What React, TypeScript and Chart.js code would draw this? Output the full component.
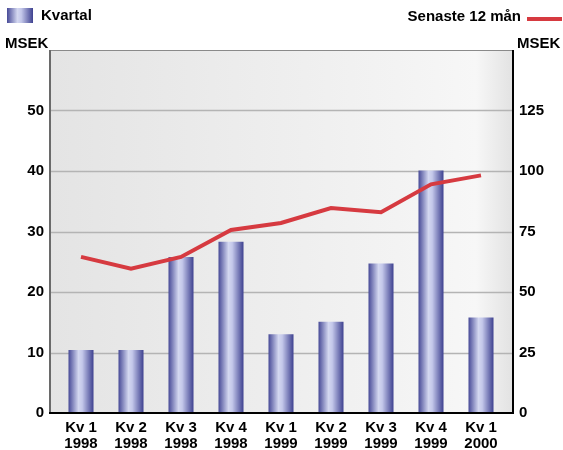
import React, { useEffect, useRef } from "react";
import { Chart, registerables } from "chart.js";

Chart.register(...registerables);

const categories: string[][] = [
  ["Kv 1", "1998"], ["Kv 2", "1998"], ["Kv 3", "1998"], ["Kv 4", "1998"],
  ["Kv 1", "1999"], ["Kv 2", "1999"], ["Kv 3", "1999"], ["Kv 4", "1999"],
  ["Kv 1", "2000"],
];
const kvartal: number[] = [10.4, 10.4, 25.8, 28.3, 13.0, 15.1, 24.7, 40.1, 15.8];
const senaste12: number[] = [64.5, 59.6, 64.5, 75.6, 78.5, 84.7, 83.0, 94.5, 98.2];
const leftMax = 60;
const rightMax = 150;
const leftStep = 10;
const legendBars = "Kvartal";
const legendLine = "Senaste 12 mån";
const axisUnit = "MSEK";

const FONT = "'Liberation Sans', Arial, sans-serif";
const BAR_PCT = 0.5;
const FRAME_L = 50;
const FRAME_R = 513;

function barGradient(ctx: CanvasRenderingContext2D, x0: number, w: number) {
  const g = ctx.createLinearGradient(x0, 0, x0 + w, 0);
  g.addColorStop(0, "#474a97");
  g.addColorStop(0.4, "#d3d7f0");
  g.addColorStop(0.55, "#c4c8ea");
  g.addColorStop(1, "#3e4190");
  return g;
}

const decorPlugin = {
  id: "decor",
  beforeDatasetsDraw(chart: any) {
    const { ctx, chartArea: a } = chart;
    const ys = chart.scales.y;
    ctx.save();
    const g = ctx.createLinearGradient(FRAME_L, 0, FRAME_R, 0);
    g.addColorStop(0, "#e4e4e4");
    g.addColorStop(0.75, "#f3f3f3");
    g.addColorStop(0.92, "#f7f7f7");
    g.addColorStop(1, "#e2e2e2");
    ctx.fillStyle = g;
    ctx.fillRect(FRAME_L, a.top, FRAME_R - FRAME_L, a.bottom - a.top);
    ctx.strokeStyle = "#b4b4b4";
    ctx.lineWidth = 1.5;
    for (let v = leftStep; v < leftMax; v += leftStep) {
      const y = Math.round(ys.getPixelForValue(v)) + 0.5;
      ctx.beginPath();
      ctx.moveTo(FRAME_L, y);
      ctx.lineTo(FRAME_R, y);
      ctx.stroke();
    }
    ctx.restore();
  },
  afterDraw(chart: any) {
    const { ctx, chartArea: a } = chart;
    ctx.save();
    ctx.strokeStyle = "#8a8a8a";
    ctx.lineWidth = 1;
    ctx.beginPath();
    ctx.moveTo(FRAME_L, a.top + 0.5);
    ctx.lineTo(FRAME_R, a.top + 0.5);
    ctx.stroke();
    ctx.lineWidth = 2;
    ctx.strokeStyle = "#6a6a6a";
    ctx.beginPath();
    ctx.moveTo(FRAME_L, a.top);
    ctx.lineTo(FRAME_L, a.bottom + 1);
    ctx.stroke();
    ctx.strokeStyle = "#000";
    ctx.beginPath();
    ctx.moveTo(FRAME_R, a.top);
    ctx.lineTo(FRAME_R, a.bottom + 1);
    ctx.stroke();
    ctx.beginPath();
    ctx.moveTo(FRAME_L - 1, a.bottom);
    ctx.lineTo(FRAME_R + 1, a.bottom);
    ctx.stroke();
    // legend: bars
    ctx.fillStyle = barGradient(ctx, 7, 26);
    ctx.fillRect(7, 8, 26, 15);
    ctx.fillStyle = "#000";
    ctx.font = `bold 15px ${FONT}`;
    ctx.textBaseline = "middle";
    ctx.textAlign = "left";
    ctx.fillText(legendBars, 41, 16);
    // legend: line
    ctx.textAlign = "right";
    ctx.fillText(legendLine, 521, 17);
    ctx.strokeStyle = "#d63a40";
    ctx.lineWidth = 4;
    ctx.beginPath();
    ctx.moveTo(527, 19);
    ctx.lineTo(562, 19);
    ctx.stroke();
    // axis units
    ctx.textAlign = "left";
    ctx.fillText(axisUnit, 5, 44);
    ctx.fillText(axisUnit, 517, 44);
    ctx.restore();
  },
};

export default function App() {
  const ref = useRef<HTMLCanvasElement | null>(null);
  useEffect(() => {
    document.body.style.margin = "0";
    const canvas = ref.current!;
    const chart = new Chart(canvas, {
      type: "bar",
      data: {
        labels: categories,
        datasets: [
          {
            type: "line",
            label: legendLine,
            data: senaste12,
            yAxisID: "y1",
            borderColor: "#d63a40",
            borderWidth: 4,
            pointRadius: 0,
            tension: 0,
            order: 0,
          } as any,
          {
            type: "bar",
            label: legendBars,
            data: kvartal,
            yAxisID: "y",
            barPercentage: BAR_PCT,
            categoryPercentage: 1,
            order: 1,
            backgroundColor: (c: any) => {
              const ch = c.chart;
              const xs = ch.scales?.x;
              if (!xs || !ch.chartArea) return "#8c90c8";
              const cw = (ch.chartArea.right - ch.chartArea.left) / categories.length;
              const w = cw * BAR_PCT;
              const cx = xs.getPixelForValue(c.dataIndex);
              return barGradient(ch.ctx, cx - w / 2, w);
            },
          } as any,
        ],
      },
      options: {
        responsive: false,
        animation: false,
        layout: { padding: { top: 50, left: 0, right: 0, bottom: 0 } },
        plugins: { legend: { display: false }, tooltip: { enabled: false } },
        scales: {
          x: {
            grid: { display: false, drawTicks: false },
            border: { display: false },
            ticks: {
              color: "#000",
              font: { family: FONT, size: 15, weight: "bold", lineHeight: 1.05 },
              padding: 7,
              maxRotation: 0,
              autoSkip: false,
            },
            afterFit: (s: any) => { s.height = 37; },
          },
          y: {
            position: "left",
            min: 0,
            max: leftMax,
            ticks: {
              stepSize: leftStep,
              color: "#000",
              font: { family: FONT, size: 15, weight: "bold" },
              padding: 12,
              callback: (v: any) => (v === leftMax ? "" : v),
            },
            grid: { display: false, drawTicks: false },
            border: { display: false },
            afterFit: (s: any) => { s.width = 56; },
          },
          y1: {
            position: "right",
            min: 0,
            max: rightMax,
            ticks: {
              stepSize: 25,
              color: "#000",
              font: { family: FONT, size: 15, weight: "bold" },
              padding: 13,
              callback: (v: any) => (v === rightMax ? "" : v),
            },
            grid: { display: false, drawTicks: false },
            border: { display: false },
            afterFit: (s: any) => { s.width = 57; },
          },
        },
      },
      plugins: [decorPlugin],
    });
    return () => chart.destroy();
  }, []);
  return <canvas ref={ref} width={563} height={450} style={{ display: "block" }} />;
}
